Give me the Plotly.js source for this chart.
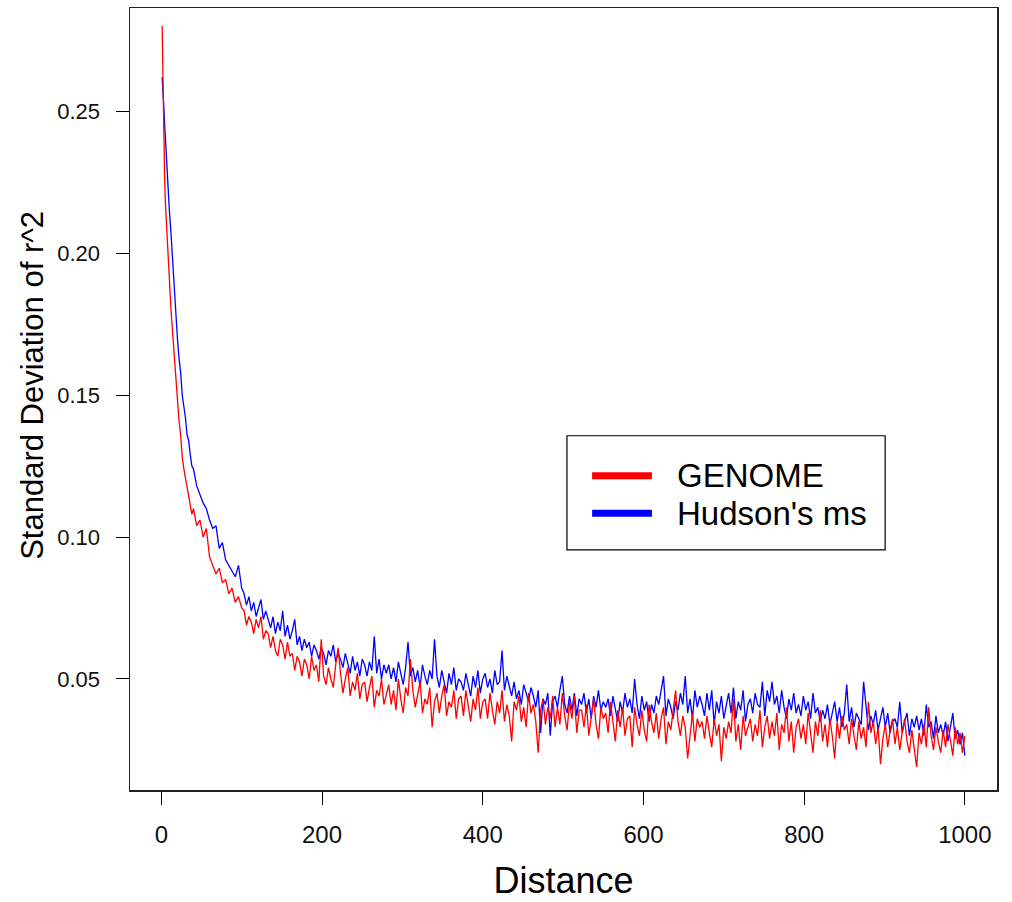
<!DOCTYPE html>
<html>
<head>
<meta charset="utf-8">
<script src="https://cdn.plot.ly/plotly-3.0.1.min.js"></script>
<style>html,body{margin:0;padding:0;background:#fff;}#chart{width:1012px;height:902px;}</style>
</head>
<body>
<div id="chart"></div>
<script>
var distance = [
  1,2,3,4,5,6,7,8,9,10,
  12,14,16,18,20,22,24,26,28,30,32,34,36,38,40,
  44,48,52,56,60,64,68,72,76,80,84,88,92,96,100,
  103,106,109,112,115,118,121,124,127,130,
  133,136,139,142,145,148,151,154,157,160,
  163,166,169,172,175,178,181,184,187,190,
  193,196,199,202,205,208,211,214,217,220,
  223,226,229,232,235,238,241,244,247,250,
  253,256,259,262,265,268,271,274,277,280,
  283,286,289,292,295,298,301,304,307,310,
  313,316,319,322,325,328,331,334,337,340,
  343,346,349,352,355,358,361,364,367,370,
  373,376,379,382,385,388,391,394,397,400,
  403,406,409,412,415,418,421,424,427,430,
  433,436,439,442,445,448,451,454,457,460,
  463,466,469,472,475,478,481,484,487,490,
  493,496,499,502,505,508,511,514,517,520,
  523,526,529,532,535,538,541,544,547,550,
  553,556,559,562,565,568,571,574,577,580,
  583,586,589,592,595,598,601,604,607,610,
  613,616,619,622,625,628,631,634,637,640,
  643,646,649,652,655,658,661,664,667,670,
  673,676,679,682,685,688,691,694,697,700,
  703,706,709,712,715,718,721,724,727,730,
  733,736,739,742,745,748,751,754,757,760,
  763,766,769,772,775,778,781,784,787,790,
  793,796,799,802,805,808,811,814,817,820,
  823,826,829,832,835,838,841,844,847,850,
  853,856,859,862,865,868,871,874,877,880,
  883,886,889,892,895,898,901,904,907,910,
  913,916,919,922,925,928,931,934,937,940,
  943,946,949,952,955,958,961,964,967,970,
  973,976,979,982,985,988,991,994,997,1000
];

// GENOME (red)
var genome = [
  0.280,0.255,0.240,0.228,0.218,0.212,0.205,0.199,0.193,0.188,
  0.180,0.172,0.164,0.157,0.150,0.141,0.136,0.128,0.124,0.121,0.118,0.114,0.112,0.108,0.110,
  0.104,0.106,0.100,0.103,0.093,0.090,0.087,0.089,0.084,0.085,0.080,0.082,0.077,0.079,0.075,
  0.074,0.069,0.072,0.070,0.066,0.071,0.068,0.072,0.064,0.067,
  0.066,0.061,0.065,0.060,0.058,0.064,0.062,0.057,0.063,0.058,
  0.059,0.053,0.058,0.056,0.051,0.057,0.055,0.050,0.058,0.053,
  0.055,0.049,0.064,0.051,0.048,0.054,0.050,0.047,0.055,0.061,
  0.052,0.045,0.050,0.054,0.044,0.049,0.046,0.052,0.043,0.048,
  0.049,0.042,0.047,0.051,0.040,0.046,0.044,0.050,0.041,0.045,
  0.048,0.041,0.046,0.039,0.050,0.043,0.038,0.047,0.044,0.057,
  0.046,0.040,0.045,0.049,0.038,0.043,0.041,0.047,0.033,0.042,
  0.045,0.038,0.044,0.048,0.037,0.042,0.040,0.046,0.036,0.043,
  0.044,0.037,0.046,0.040,0.035,0.043,0.039,0.047,0.036,0.042,
  0.043,0.036,0.045,0.039,0.034,0.042,0.038,0.046,0.035,0.041,
  0.037,0.028,0.042,0.039,0.044,0.035,0.040,0.033,0.045,0.038,
  0.041,0.035,0.024,0.039,0.043,0.034,0.040,0.036,0.044,0.033,
  0.040,0.034,0.045,0.037,0.032,0.042,0.036,0.044,0.031,0.039,
  0.039,0.033,0.041,0.030,0.037,0.043,0.034,0.029,0.040,0.036,
  0.038,0.031,0.042,0.035,0.028,0.039,0.033,0.040,0.030,0.036,
  0.037,0.026,0.040,0.034,0.030,0.039,0.032,0.028,0.041,0.035,
  0.031,0.038,0.029,0.036,0.040,0.027,0.035,0.032,0.039,0.046,
  0.035,0.030,0.037,0.033,0.022,0.031,0.038,0.028,0.036,0.033,
  0.035,0.029,0.037,0.031,0.026,0.036,0.030,0.034,0.021,0.033,
  0.029,0.035,0.031,0.043,0.028,0.034,0.025,0.037,0.030,0.033,
  0.036,0.028,0.034,0.030,0.039,0.026,0.033,0.037,0.029,0.035,
  0.030,0.038,0.025,0.034,0.031,0.040,0.028,0.035,0.024,0.033,
  0.036,0.029,0.034,0.027,0.038,0.031,0.024,0.035,0.030,0.039,
  0.028,0.034,0.026,0.036,0.030,0.022,0.035,0.029,0.037,0.032,
  0.034,0.027,0.036,0.030,0.025,0.035,0.029,0.033,0.026,0.042,
  0.031,0.035,0.027,0.033,0.020,0.029,0.034,0.026,0.032,0.036,
  0.027,0.033,0.025,0.031,0.036,0.028,0.024,0.032,0.026,0.019,
  0.031,0.027,0.034,0.026,0.040,0.030,0.025,0.033,0.028,0.024,
  0.032,0.026,0.034,0.029,0.023,0.033,0.027,0.031,0.024,0.030
];

// Hudson's ms (blue)
var hudson = [
  0.262,0.258,0.252,0.246,0.240,0.234,0.230,0.226,0.220,0.215,
  0.207,0.197,0.186,0.178,0.170,0.163,0.158,0.150,0.146,0.142,0.136,0.134,0.129,0.125,0.124,
  0.118,0.115,0.112,0.110,0.106,0.103,0.104,0.096,0.098,0.092,0.090,0.088,0.086,0.090,0.082,
  0.080,0.076,0.079,0.074,0.077,0.072,0.075,0.078,0.071,0.074,
  0.071,0.068,0.072,0.066,0.070,0.067,0.074,0.065,0.069,0.064,
  0.067,0.071,0.062,0.065,0.060,0.064,0.061,0.063,0.058,0.062,
  0.060,0.057,0.061,0.059,0.055,0.060,0.058,0.062,0.056,0.059,
  0.057,0.054,0.059,0.055,0.052,0.058,0.053,0.056,0.051,0.057,
  0.055,0.051,0.056,0.053,0.065,0.052,0.057,0.050,0.055,0.052,
  0.055,0.050,0.054,0.049,0.056,0.052,0.048,0.054,0.063,0.051,
  0.054,0.049,0.053,0.047,0.055,0.051,0.048,0.053,0.050,0.064,
  0.051,0.047,0.053,0.049,0.045,0.052,0.048,0.054,0.046,0.050,
  0.049,0.046,0.052,0.048,0.044,0.051,0.047,0.053,0.045,0.050,
  0.052,0.047,0.050,0.045,0.053,0.048,0.049,0.060,0.046,0.051,
  0.047,0.044,0.049,0.043,0.046,0.041,0.048,0.045,0.042,0.047,
  0.044,0.040,0.046,0.031,0.043,0.041,0.045,0.030,0.042,0.044,
  0.040,0.046,0.051,0.041,0.038,0.044,0.039,0.045,0.037,0.043,
  0.041,0.045,0.038,0.043,0.036,0.044,0.040,0.046,0.039,0.042,
  0.040,0.043,0.037,0.044,0.039,0.035,0.042,0.038,0.045,0.040,
  0.043,0.038,0.050,0.041,0.036,0.044,0.039,0.042,0.035,0.041,
  0.038,0.044,0.041,0.046,0.051,0.037,0.043,0.040,0.036,0.042,
  0.039,0.045,0.041,0.051,0.038,0.043,0.036,0.046,0.040,0.044,
  0.041,0.037,0.045,0.039,0.046,0.034,0.042,0.038,0.044,0.036,
  0.040,0.045,0.038,0.047,0.036,0.042,0.039,0.046,0.035,0.041,
  0.043,0.038,0.045,0.041,0.040,0.049,0.037,0.046,0.042,0.049,
  0.041,0.044,0.038,0.046,0.040,0.036,0.043,0.039,0.045,0.038,
  0.041,0.037,0.044,0.039,0.042,0.036,0.045,0.038,0.040,0.035,
  0.039,0.036,0.041,0.034,0.038,0.042,0.035,0.040,0.033,0.038,
  0.048,0.035,0.040,0.033,0.038,0.036,0.034,0.049,0.039,0.032,
  0.037,0.034,0.039,0.032,0.036,0.040,0.033,0.038,0.031,0.035,
  0.036,0.033,0.042,0.031,0.035,0.038,0.030,0.036,0.033,0.037,
  0.032,0.036,0.030,0.041,0.033,0.035,0.029,0.037,0.031,0.034,
  0.030,0.035,0.028,0.033,0.038,0.029,0.032,0.027,0.031,0.023
];

var xTicks = [0, 200, 400, 600, 800, 1000];
var yTicks = [0.05, 0.10, 0.15, 0.20, 0.25];
var yTickText = ["0.05", "0.10", "0.15", "0.20", "0.25"];
var seriesNames = ["GENOME", "Hudson's ms"];
var seriesColors = ["#ff0000", "#0000ff"];
var xTitle = "Distance";
var yTitle = "Standard Deviation of r^2";

var FONT = "Liberation Sans, Arial, Helvetica, sans-serif";

var traces = [
  {x: distance, y: hudson, type: "scatter", mode: "lines", name: seriesNames[1],
   line: {color: seriesColors[1], width: 1.3}, showlegend: false, hoverinfo: "x+y"},
  {x: distance, y: genome, type: "scatter", mode: "lines", name: seriesNames[0],
   line: {color: seriesColors[0], width: 1.3}, showlegend: false, hoverinfo: "x+y"}
];

// boxed key (thick line samples + labels)
var L = {x0: 0.504, x1: 0.871, y0: 0.307, y1: 0.453, lx0: 0.533, lx1: 0.602, tx: 0.629, rows: [0.402, 0.354]};
var shapes = [
  {type: "rect", xref: "paper", yref: "paper", x0: L.x0, x1: L.x1, y0: L.y0, y1: L.y1,
   line: {color: "#000", width: 1.2}, fillcolor: "#fff", layer: "above"}
];
var annotations = [];
for (var i = 0; i < seriesNames.length; i++) {
  shapes.push({type: "line", xref: "paper", yref: "paper", x0: L.lx0, x1: L.lx1, y0: L.rows[i], y1: L.rows[i],
               line: {color: seriesColors[i], width: 7}, layer: "above"});
  annotations.push({xref: "paper", yref: "paper", x: L.tx, y: L.rows[i], xanchor: "left", yanchor: "middle",
                    text: seriesNames[i], showarrow: false, font: {family: FONT, size: 33, color: "#000"}});
}
// y-axis title placed as in the reference
annotations.push({xref: "paper", yref: "paper", x: -0.112, y: 0.518, xanchor: "center", yanchor: "middle",
                  textangle: -90, text: yTitle, showarrow: false,
                  font: {family: FONT, size: 31, color: "#000"}});

var layout = {
  width: 1012, height: 902,
  margin: {l: 130, r: 15, t: 8, b: 112, pad: 0},
  paper_bgcolor: "#fff", plot_bgcolor: "#fff",
  showlegend: false,
  xaxis: {
    range: [-39, 1040], tickvals: xTicks, ticktext: xTicks.map(String),
    ticks: "outside", ticklen: 13, tickwidth: 1, tickcolor: "#000",
    showline: true, mirror: true, linecolor: "#222", linewidth: 1.5,
    showgrid: false, zeroline: false, ticklabelstandoff: 10,
    tickfont: {family: FONT, size: 24, color: "#111"},
    title: {text: xTitle, font: {family: FONT, size: 36, color: "#000"}, standoff: 20},
    automargin: false
  },
  yaxis: {
    range: [0.0109, 0.2863], tickvals: yTicks, ticktext: yTickText,
    ticks: "outside", ticklen: 13, tickwidth: 1, tickcolor: "#000",
    showline: true, mirror: true, linecolor: "#222", linewidth: 1.5,
    showgrid: false, zeroline: false, ticklabelstandoff: 11,
    tickfont: {family: FONT, size: 22, color: "#111"},
    automargin: false
  },
  shapes: shapes,
  annotations: annotations
};

Plotly.newPlot("chart", traces, layout, {displayModeBar: false, staticPlot: true});
</script>
</body>
</html>
